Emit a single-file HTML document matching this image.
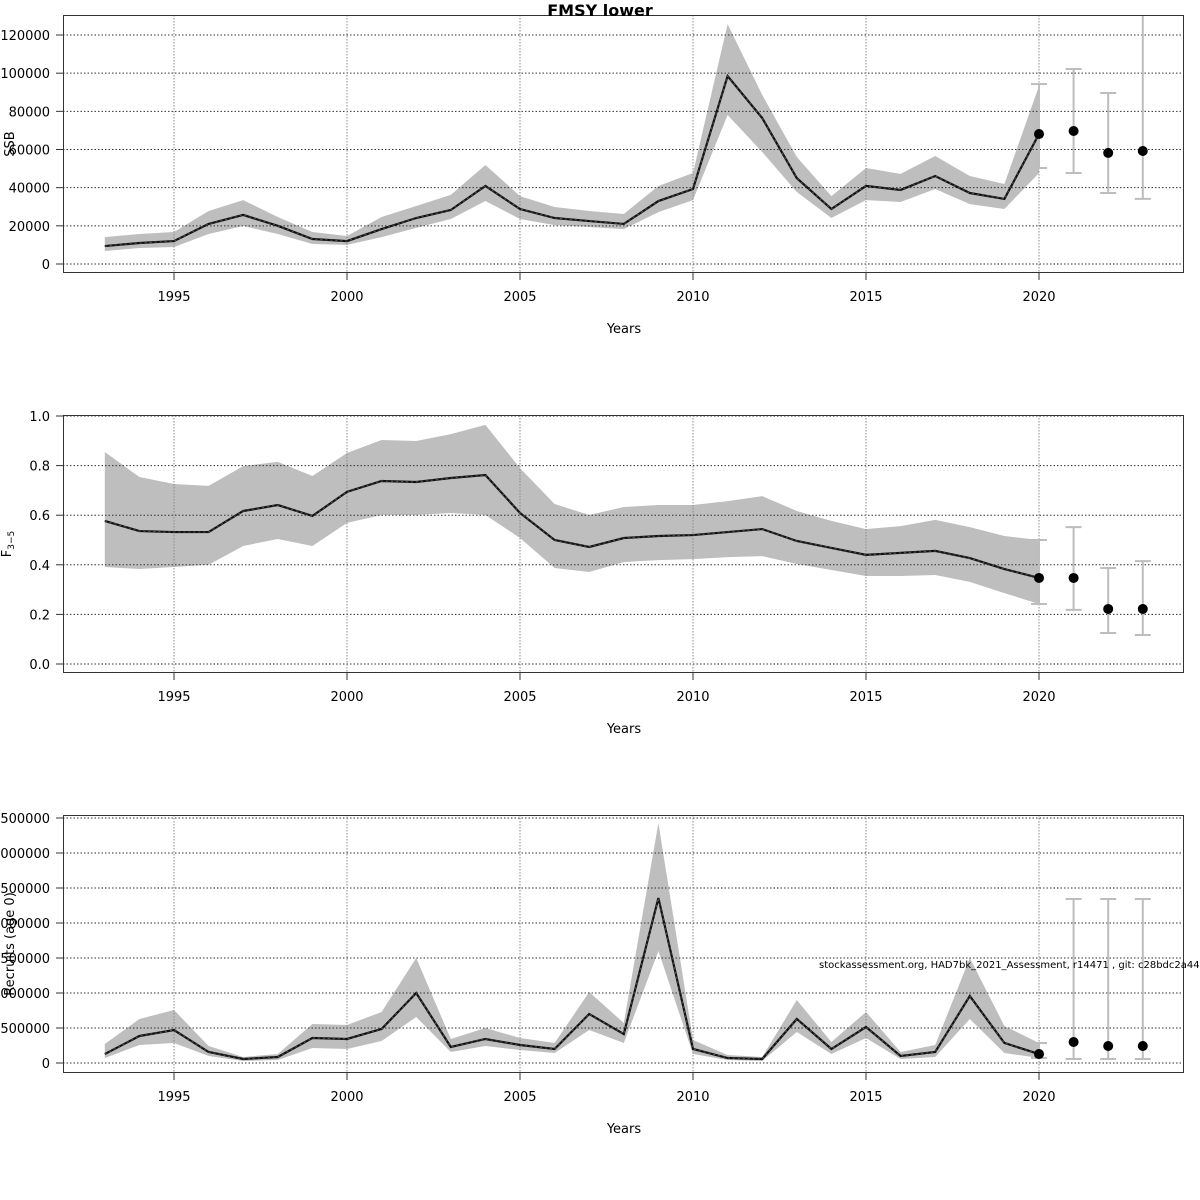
<!DOCTYPE html>
<html><head><meta charset="utf-8"><style>
html,body{margin:0;padding:0;background:#fff;width:1200px;height:1200px;overflow:hidden}
svg{display:block;font-family:"DejaVu Sans","Liberation Sans",sans-serif}
</style></head><body>
<svg id="c" width="1200" height="1200" xmlns="http://www.w3.org/2000/svg"></svg>
<script>
const years=[1993,1994,1995,1996,1997,1998,1999,2000,2001,2002,2003,2004,2005,2006,2007,2008,2009,2010,2011,2012,2013,2014,2015,2016,2017,2018,2019,2020];
const xTicks=[1995,2000,2005,2010,2015,2020];
const fcYears=[2020,2021,2022,2023];

const ssbMed=[9400,11000,12000,21000,25700,20000,13100,12000,18300,24100,28300,40900,28800,24100,22500,21000,33000,39300,98500,76500,45000,28800,40900,38800,46100,37200,34100,68100];
const ssbHi=[14100,15700,16800,27800,33500,24600,16800,14700,24600,30400,36200,51900,35600,29900,27800,26200,40900,47700,125700,88600,56100,35600,50300,47200,56600,46100,41900,93300];
const ssbLo=[6800,8400,8900,15700,19900,15700,10500,10000,14100,18900,23600,33000,23600,20400,19400,18300,27200,33500,78100,58700,37700,24100,33500,32500,39300,31400,28800,47700];
const ssbFc=[68100,69700,58200,59200];
const ssbFcHi=[94300,102200,89600,135000];
const ssbFcLo=[50300,47700,37200,34100];
const ssbTicks=[0,20000,40000,60000,80000,100000,120000];

const fMed=[0.577,0.536,0.532,0.532,0.617,0.641,0.597,0.694,0.738,0.734,0.75,0.762,0.609,0.5,0.472,0.508,0.516,0.52,0.532,0.544,0.496,0.468,0.44,0.448,0.456,0.427,0.383,0.347];
const fHi=[0.855,0.754,0.726,0.718,0.798,0.815,0.758,0.851,0.903,0.899,0.927,0.964,0.79,0.645,0.601,0.633,0.641,0.641,0.657,0.677,0.617,0.577,0.544,0.556,0.581,0.552,0.516,0.5];
const fLo=[0.391,0.383,0.391,0.4,0.476,0.504,0.476,0.569,0.601,0.601,0.609,0.601,0.508,0.387,0.371,0.411,0.419,0.423,0.431,0.435,0.403,0.379,0.355,0.355,0.359,0.331,0.286,0.242];
const fFc=[0.347,0.347,0.222,0.222];
const fFcHi=[0.5,0.552,0.387,0.415];
const fFcLo=[0.242,0.218,0.125,0.117];
const fTicks=[0,0.2,0.4,0.6,0.8,1.0];

const rMed=[128000,386000,471000,157000,57000,86000,357000,343000,486000,1000000,229000,343000,257000,200000,700000,414000,2357000,200000,71000,57000,629000,200000,514000,100000,157000,957000,286000,128000];
const rHi=[271000,629000,757000,243000,86000,128000,557000,543000,729000,1500000,343000,500000,357000,286000,1014000,571000,3429000,329000,114000,86000,900000,300000,729000,157000,257000,1500000,529000,286000];
const rLo=[71000,257000,286000,100000,29000,43000,214000,200000,314000,657000,157000,243000,186000,143000,471000,286000,1600000,128000,43000,29000,443000,128000,357000,57000,86000,629000,143000,71000];
const rFc=[128000,300000,243000,243000];
const rFcHi=[286000,2343000,2343000,2343000];
const rFcLo=[71000,57000,57000,57000];
const rTicks=[0,500000,1000000,1500000,2000000,2500000,3000000,3500000];

const NS="http://www.w3.org/2000/svg";
const svg=document.getElementById('c');
function mk(tag,attrs,parent){const e=document.createElementNS(NS,tag);for(const k in attrs)e.setAttribute(k,attrs[k]);(parent||svg).appendChild(e);return e;}
const L=63,R=1184;
function xs(y){return 104.8+(y-1993)*34.6;}

function panel(name,top,yZero,yTop,vTop,ticks,fmt,med,hi,lo,fc,fcHi,fcLo){
  const bot=top+257;
  const ys=v=>yZero-(v/vTop)*(yZero-yTop);
  const g=mk('g',{});
  
  
  const clip=mk('clipPath',{id:'cl-'+name},g);
  mk('rect',{x:L,y:top,width:R-L,height:bot-top},clip);
  const pg=mk('g',{'clip-path':'url(#cl-'+name+')'},g);
  // band
  let pts=years.map((y,i)=>xs(y)+','+ys(hi[i])).concat(years.slice().reverse().map((y,j)=>{const i=years.length-1-j;return xs(y)+','+ys(lo[i]);}));
  const band=mk('polygon',{points:pts.join(' '),fill:'#bebebe',stroke:'none'},pg);
  
  
  // grid
  ticks.forEach(t=>{const l=mk('line',{x1:L,x2:R,y1:ys(t),y2:ys(t),stroke:'#333','stroke-width':1,'stroke-dasharray':'1.5,2'},pg);
    
    });
  xTicks.forEach(t=>{const l=mk('line',{x1:xs(t),x2:xs(t),y1:top,y2:bot,stroke:'#888','stroke-width':1,'stroke-dasharray':'1.5,1.5'},pg);
    
    });
  // median
  const mp=years.map((y,i)=>xs(y)+','+ys(med[i])).join(' ');
  const ml=mk('polyline',{points:mp,fill:'none',stroke:'#111','stroke-width':2.2},pg);
  
  
  mk('polyline',{points:mp,fill:'none',stroke:'#555','stroke-width':1,'stroke-dasharray':'2,3'},pg);
  // forecast
  fcYears.forEach((y,i)=>{
    const x=xs(y);
    const eg=mk('g',{},pg);
    
    
    mk('line',{x1:x,x2:x,y1:ys(fcHi[i]),y2:ys(fcLo[i]),stroke:'#bdbdbd','stroke-width':2},eg);
    mk('line',{x1:x-8,x2:x+8,y1:ys(fcHi[i]),y2:ys(fcHi[i]),stroke:'#bdbdbd','stroke-width':2},eg);
    mk('line',{x1:x-8,x2:x+8,y1:ys(fcLo[i]),y2:ys(fcLo[i]),stroke:'#bdbdbd','stroke-width':2},eg);
    const c=mk('circle',{cx:x,cy:ys(fc[i]),r:5,fill:'#000'},pg);
    
    
  });
  // box
  mk('rect',{x:L+0.5,y:top+0.5,width:R-L-1,height:bot-top,fill:'none',stroke:'#333','stroke-width':1},g);
  // y axis
  ticks.forEach(t=>{mk('line',{x1:56,x2:L,y1:ys(t),y2:ys(t),stroke:'#333'},g);
    const tx=mk('text',{x:50,y:ys(t)+5,'text-anchor':'end','font-size':13,fill:'#000'},g);tx.textContent=fmt(t);
    
    });
  xTicks.forEach(t=>{mk('line',{x1:xs(t),x2:xs(t),y1:bot,y2:bot+8,stroke:'#333'},g);
    const tx=mk('text',{x:xs(t),y:bot+29,'text-anchor':'middle','font-size':13,fill:'#000'},g);tx.textContent=t;
    
    });
  const xt=mk('text',{x:624,y:bot+61,'text-anchor':'middle','font-size':13},g);xt.textContent='Years';
  
  
  return {g,ys,bot};
}
panel('ssb',15,264,35,120000,ssbTicks,t=>String(t),ssbMed,ssbHi,ssbLo,ssbFc,ssbFcHi,ssbFcLo);
panel('f',415,664,416,1.0,fTicks,t=>t.toFixed(1),fMed,fHi,fLo,fFc,fFcHi,fFcLo);
panel('recruits',815,1063,818,3500000,rTicks,t=>String(t),rMed,rHi,rLo,rFc,rFcHi,rFcLo);

let t=mk('text',{x:600,y:16,'text-anchor':'middle','font-size':16,'font-weight':'bold'});t.textContent='FMSY lower';


t=mk('text',{x:14,y:144,'text-anchor':'middle','font-size':13,transform:'rotate(-90 14 144)'});t.textContent='SSB';


t=mk('text',{x:11,y:544,'font-size':13,transform:'rotate(-90 11 544)','text-anchor':'middle'});
t.innerHTML='F<tspan font-size="9" dy="3">3−5</tspan>';


t=mk('text',{x:14,y:944,'text-anchor':'middle','font-size':13,transform:'rotate(-90 14 944)'});t.textContent='Recruits (age 0)';


t=mk('text',{x:819,y:968,'font-size':10});t.textContent='stockassessment.org, HAD7bk_2021_Assessment, r14471 , git: c28bdc2a44ac';


</script>
</body></html>
